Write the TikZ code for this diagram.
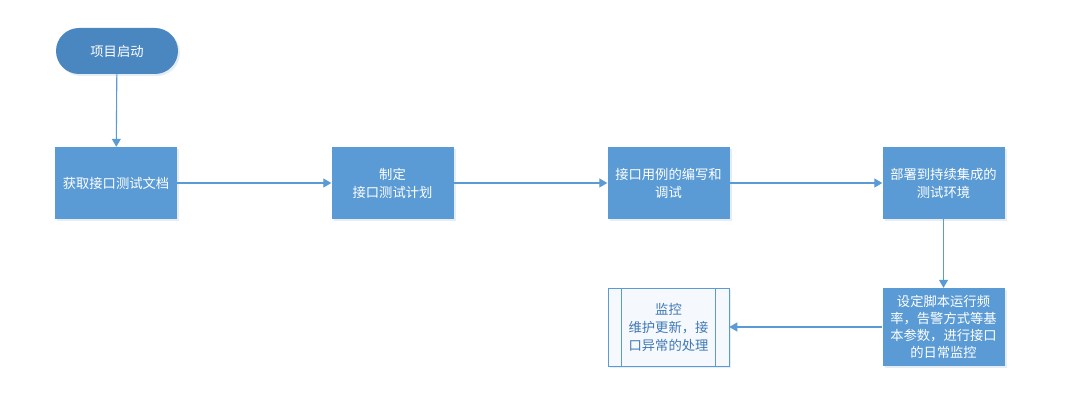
\documentclass[tikz,border=0pt]{standalone}
\usepackage{fontspec}
\newfontfamily\cjk{Noto Sans CJK SC}
\usetikzlibrary{arrows.meta,shadows}
\definecolor{boxblue}{HTML}{5B9BD5}
\definecolor{pillblue}{HTML}{4A86C0}
\definecolor{linkblue}{HTML}{5B9BD5}
\definecolor{monfill}{HTML}{F5F8FC}
\definecolor{montext}{HTML}{3F78B5}
\definecolor{shadowc}{HTML}{D8E2EE}
\tikzset{
  base/.style={font=\cjk\fontsize{13.3}{18}\selectfont, align=center, inner sep=2pt,
    drop shadow={shadow xshift=2pt, shadow yshift=-2pt, fill=shadowc, opacity=0.6}},
  stepbox/.style={base, fill=boxblue, draw=none, text=white, minimum width=120pt, minimum height=72pt, text width=118pt},
  pill/.style={base, fill=pillblue, draw=none, text=white, rounded corners=23pt, minimum width=122pt, minimum height=46pt},
  predef/.style={base, fill=monfill, draw=linkblue, line width=0.6pt, text=montext, minimum width=121pt, minimum height=78pt, text width=92pt},
  link/.style={draw=linkblue, line width=1.1pt, -{Triangle[length=8pt,width=9pt]}}
}
\begin{document}
\begin{tikzpicture}[x=1pt,y=-1pt]
\useasboundingbox[fill=white] (0,0) rectangle (1070,406);
\node[pill] (start) at (117,51) {项目启动};
\node[stepbox] (b1) at (116,183) {获取接口测试文档};
\node[stepbox] (b2) at (392.5,183) {制定\\接口测试计划};
\node[stepbox] (b3) at (668.5,183) {接口用例的编写和\\调试};
\node[stepbox] (b4) at (943.5,183) {部署到持续集成的\\测试环境};
\node[stepbox, minimum height=78pt, font=\cjk\fontsize{13.3}{17}\selectfont] (b5) at (943.5,327) {设定脚本运行频\\率，告警方式等基\\本参数，进行接口\\的日常监控};
\node[predef] (mon) at (668.5,327) {监控\\维护更新，接\\口异常的处理};
\draw[draw=linkblue, line width=0.6pt] ([xshift=14pt]mon.north west) -- ([xshift=14pt]mon.south west);
\draw[draw=linkblue, line width=0.6pt] ([xshift=-14pt]mon.north east) -- ([xshift=-14pt]mon.south east);
\draw[link] (start) -- (b1);
\draw[link] (b1) -- (b2);
\draw[link] (b2) -- (b3);
\draw[link] (b3) -- (b4);
\draw[link] (b4) -- (b5);
\draw[link] (b5) -- (mon);
\end{tikzpicture}
\end{document}
